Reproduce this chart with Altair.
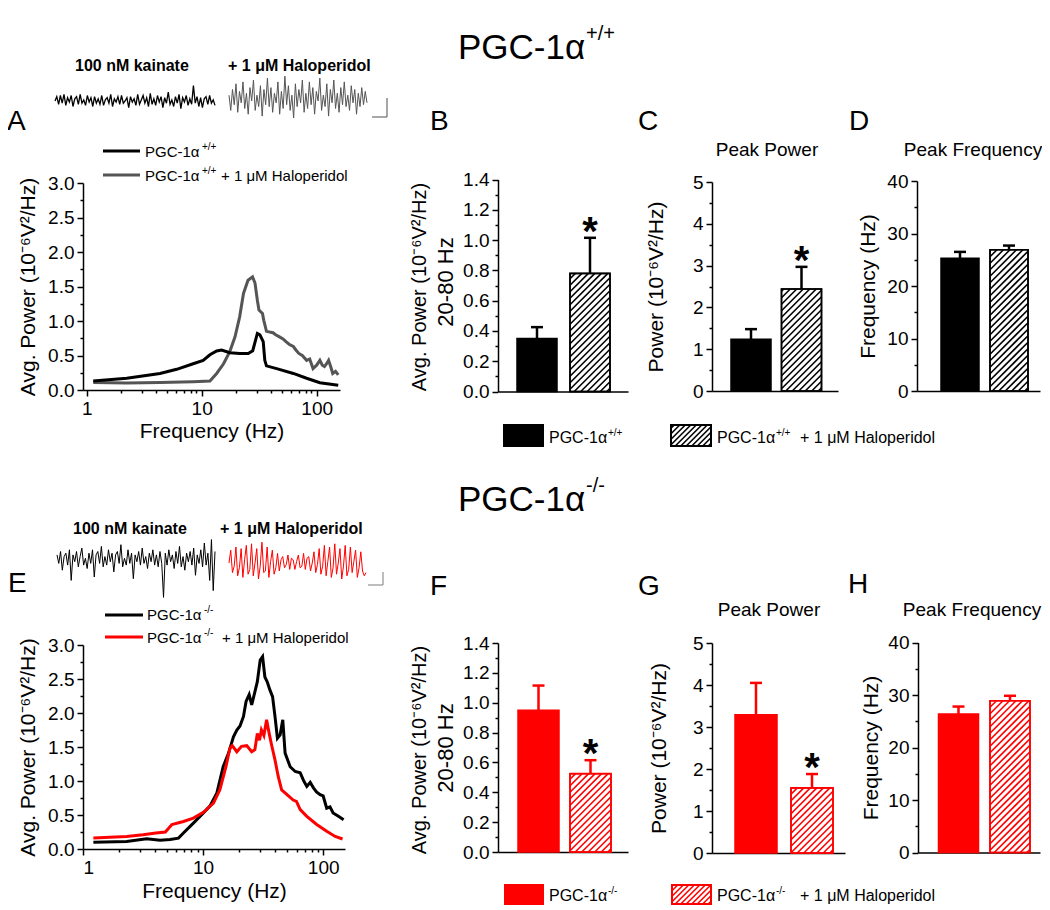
import altair as alt
import pandas as pd

FONT = "Liberation Sans"
M = 8
W, H = 1034, 900

# ---------------- data ----------------
# Panel A: PGC-1α+/+ average power spectra
a_freq_ctrl = [1.14, 2.23, 4.34, 6.06, 8.44, 10.3, 11.8, 13.5, 14.9, 17.6,
               21.5, 25.4, 27.8, 30.5, 32.1, 34.3, 35.4, 36.6, 44.9, 62.7,
               81.8, 106.7, 154]
a_pow_ctrl = [0.13, 0.17, 0.24, 0.30, 0.38, 0.43, 0.51, 0.565, 0.58, 0.54,
              0.53, 0.53, 0.57, 0.82, 0.80, 0.70, 0.43, 0.35, 0.31, 0.24,
              0.17, 0.106, 0.07]
a_freq_halo = [1.14, 2.23, 4.34, 8.44, 11.8, 13.5, 15.5, 17.6, 19.5, 21.4,
               23.1, 25.3, 27.7, 29.1, 30.5, 31.5, 33.8, 34.7, 36.6, 41.7,
               44.0, 47.5, 51.0, 54.1, 58.0, 62.7, 66.0, 70.0, 75.0, 81.8,
               87.0, 93.0, 100.0, 106.7, 112.0, 117.0, 122.0, 127.0, 133.0, 138.0,
               146.0, 154.0]
a_pow_halo = [0.11, 0.10, 0.11, 0.12, 0.13, 0.24, 0.38, 0.56, 0.77, 1.06,
              1.40, 1.59, 1.64, 1.55, 1.30, 1.16, 1.11, 1.01, 0.85, 0.83,
              0.80, 0.77, 0.74, 0.70, 0.66, 0.63, 0.58, 0.53, 0.50, 0.43,
              0.45, 0.31, 0.36, 0.43, 0.36, 0.34, 0.38, 0.43, 0.33, 0.24,
              0.27, 0.22]

# Panel E: PGC-1α-/- average power spectra
e_freq_ctrl = [1.22, 2.31, 3.39, 4.38, 5.31, 6.24, 6.86, 8.30, 10.06, 11.4,
               13.0, 14.7, 16.3, 17.9, 19.1, 20.3, 21.7, 22.8, 24.2, 25.4,
               27.0, 28.3, 29.9, 31.3, 32.7, 34.2, 36.0, 37.9, 39.7, 41.6,
               43.8, 46.1, 48.2, 53.1, 58.5, 64.4, 69.0, 73.1, 78.0, 83.0,
               88.0, 94.3, 100.0, 107.0, 114.0, 121.0, 134.0, 148.0]
e_pow_ctrl = [0.10, 0.11, 0.15, 0.13, 0.14, 0.16, 0.235, 0.38, 0.53, 0.63,
              0.82, 1.21, 1.41, 1.65, 1.75, 1.81, 1.95, 2.17, 2.27, 2.12,
              2.31, 2.46, 2.78, 2.83, 2.53, 2.46, 2.34, 2.24, 1.95, 1.63,
              1.68, 1.90, 1.41, 1.21, 1.14, 1.12, 1.00, 0.92, 0.98, 0.90,
              0.84, 0.80, 0.78, 0.60, 0.62, 0.53, 0.48, 0.43]
e_freq_halo = [1.22, 2.31, 3.16, 4.05, 4.85, 5.50, 6.86, 8.30, 10.06, 12.2,
               13.8, 15.5, 16.7, 17.5, 19.1, 20.9, 23.1, 25.4, 27.0, 28.3,
               29.5, 30.6, 32.1, 33.8, 35.5, 37.2, 39.7, 42.2, 45.1, 50.0,
               56.3, 59.9, 64.4, 73.1, 88.3, 107.0, 126.0, 145.0]
e_pow_halo = [0.16, 0.185, 0.21, 0.235, 0.25, 0.36, 0.405, 0.455, 0.54, 0.675,
              0.87, 1.21, 1.48, 1.52, 1.43, 1.51, 1.52, 1.43, 1.46, 1.70,
              1.60, 1.75, 1.67, 1.90, 1.70, 1.53, 1.31, 1.07, 0.87, 0.80,
              0.72, 0.70, 0.58, 0.48, 0.36, 0.26, 0.185, 0.147]

# Bar panels: [control, + haloperidol]
b_mean = [0.35, 0.78];  b_err = [0.075, 0.235]
c_mean = [1.24, 2.44];  c_err = [0.24, 0.53]
d_mean = [25.3, 26.9];  d_err = [1.2, 0.8]
f_mean = [0.95, 0.525]; f_err = [0.165, 0.09]
g_mean = [3.29, 1.55];  g_err = [0.76, 0.33]
h_mean = [26.4, 28.9];  h_err = [1.4, 0.95]

# Example field-potential traces (arbitrary units)
tr_top_ctrl = [0, 4, -3, 5, -2, 6, -4, 3, -1, 5, -5, 2, 4, -3, 6, -2, 1, -4, 5, -1,
               3, -5, 4, -2, 2, -3, 5, -4, 1, 3, -2, 6, -5, 2, -1, 4, -3, 5, -2, 0,
               3, -6, 4, -1, 2, -4, 6, -3, 1, 5, -2, 3, -5, 7, -3, 2, -4, 5, -1, 4,
               -6, 3, -2, 8, -3, 1, -5, 4, -2, 6, -7, 3, -1, 5, -4, 2, -3, 14, -2, 4,
               -5, 3, -6, 2, 4, -3, 5, -2, 1, -4]
tr_top_halo = [2, -6, 5, -3, 8, -7, 4, -2, 9, -5, 3, -8, 6, -1, 10, -6, 2, -4, 7, -9,
               5, -3, 11, -4, 6, -7, 3, -2, 9, -8, 4, -5, 12, -3, 7, -6, 2, -10, 8, -4,
               5, -2, 10, -7, 3, -5, 9, -3, 6, -8, 4, -1, 11, -6, 2, -4, 8, -9, 5, -2,
               10, -5, 3, -7, 6, -3, 9, -4, 2, -6, 7, -2, 5, -8, 3, -4, 6, -3, 4, -2]
tr_bot_ctrl = [3, -2, 5, -6, 2, 4, -3, 6, -12, 3, -1, 5, -4, 2, 7, -3, 1, -5, 4, -2,
               6, -10, 3, 5, -2, 8, -4, 2, -3, 6, -1, 4, -7, 3, 5, -2, 9, -4, 1, -3,
               6, -2, 4, -11, 3, -1, 5, -3, 7, -2, 2, -5, 4, -1, 6, -3, 3, -4, 5, -2,
               -22, 4, -3, 6, -1, 3, -5, 5, -2, 8, -4, 2, -6, 4, -1, 5, -3, 7, -9, 3,
               -2, 6, -4, 10, -3, 4, -12, 12, -18, 5]
tr_bot_halo = [0, 8, -6, -2, 10, -8, -3, 9, -9, 2, 11, -7, -4, 12, -8, 0, 9, -10, -2, 13,
               -6, -5, 10, -9, 1, 8, -7, -3, 6, -5, 2, 4, -3, -1, 5, -4, 3, 2, -4, 1,
               5, -3, -2, 6, -4, 3, 4, -5, 0, 7, -6, -1, 9, -7, -2, 11, -8, 1, 10, -9,
               -3, 12, -7, 0, 9, -10, -2, 11, -8, -4, 10, -6, 1, 8, -9, -3, 7, -5, -8, -6]

RED = "#ff0000"
GREY = "#555555"


def P(v):
    """screen pixel -> chart pixel"""
    return v - M


def pscale_x():
    return alt.Scale(domain=[M, M + W], range=[0, W], nice=False, zero=False)


def pscale_y():
    return alt.Scale(domain=[M, M + H], range=[0, H], nice=False, zero=False)


AX = dict(domainColor="black", domainWidth=1.5, tickColor="black", tickWidth=1.5,
          labelColor="black", labelFont=FONT, labelFontSize=19, titleFont=FONT,
          titleFontSize=21, titleFontWeight="normal", titleColor="black", grid=False,
          labelPadding=3)


def y_major(ax, values, fmt, title, title_right):
    kw = dict(AX)
    kw.update(orient="left", offset=-P(ax), values=values, format=fmt, tickSize=6)
    if title is None:
        kw.update(title=None)
    else:
        kw.update(title=title, titleX=title_right - ax, titleBaseline="bottom",
                  titleAngle=270)
    return alt.Axis(**kw)


def y_minor(ax, values):
    return alt.Axis(orient="left", offset=-P(ax), values=values, labels=False,
                    domain=False, tickSize=3, tickWidth=1.5, tickColor="black",
                    title=None, grid=False)


def x_log_major(ybot, title_top):
    kw = dict(AX)
    kw.update(orient="bottom", offset=P(ybot) - H, values=[1, 10, 100], format="d",
              tickSize=6, title="Frequency (Hz)", titleBaseline="top",
              titleY=title_top - ybot)
    return alt.Axis(**kw)


def x_log_minor(ybot):
    vals = [2, 3, 4, 5, 6, 7, 8, 9, 20, 30, 40, 50, 60, 70, 80, 90]
    return alt.Axis(orient="bottom", offset=P(ybot) - H, values=vals, labels=False,
                    domain=False, tickSize=3, tickWidth=1.5, tickColor="black",
                    title=None, grid=False)


def x_base(ybot):
    return alt.Axis(orient="bottom", offset=P(ybot) - H, values=[], labels=False,
                    ticks=False, domain=True, domainColor="black", domainWidth=1.5,
                    title=None, grid=False)


def hatch_local(bw, bh, step):
    segs = []
    k = -bw + step / 2
    while k < bh:
        xa = max(0.0, -k)
        xb = min(bw, bh - k)
        if xb > xa:
            segs.append((xa, xa + k, xb, xb + k))
        k += step
    return segs


def spectrum(freq1, pow1, col1, freq2, pow2, col2, ax, right, ybot, ytop, xdom,
             title_right, xtitle_top):
    def xs():
        return alt.Scale(type="log", domain=xdom, range=[P(ax), P(right)], nice=False)

    def ys():
        return alt.Scale(domain=[0, 3], range=[P(ybot), P(ytop)], nice=False, zero=False)

    d1 = pd.DataFrame({"f": freq1, "p": pow1})
    d2 = pd.DataFrame({"f": freq2, "p": pow2})
    l1 = alt.Chart(d1).mark_line(color=col1, strokeWidth=3).encode(
        x=alt.X("f:Q", scale=xs(), axis=x_log_major(ybot, xtitle_top)),
        y=alt.Y("p:Q", scale=ys(),
                axis=y_major(ax, [0, 0.5, 1.0, 1.5, 2.0, 2.5, 3.0], ".1f",
                             "Avg. Power (10⁻⁶V²/Hz)", title_right)))
    l2 = alt.Chart(d2).mark_line(color=col2, strokeWidth=3).encode(
        x=alt.X("f:Q", scale=xs(), axis=x_log_minor(ybot)),
        y=alt.Y("p:Q", scale=ys(),
                axis=y_minor(ax, [0.25, 0.75, 1.25, 1.75, 2.25, 2.75])))
    return [l1, l2]


def bar_panel(means, errs, color, ax, c1, c2, bw, right, ybot, ytop, ymax,
              major, minor, fmt, title, title_right, star_dy=7):
    u = c2 - c1
    lo = 1 - (c1 - ax) / u
    hi = 2 + (right - c2) / u
    hw = bw / 2 / u
    cap = 6 / u
    ky = (ybot - ytop) / ymax

    def xs():
        return alt.Scale(domain=[lo, hi], range=[P(ax), P(right)], nice=False, zero=False)

    def ys():
        return alt.Scale(domain=[0, ymax], range=[P(ybot), P(ytop)], nice=False, zero=False)

    df = pd.DataFrame({"i": [1, 2], "m": means, "e": errs})
    df["x0"] = df["i"] - hw
    df["x1"] = df["i"] + hw
    df["z"] = 0.0
    df["top"] = df["m"] + df["e"]
    df["k0"] = df["i"] - cap
    df["k1"] = df["i"] + cap
    df["fill"] = [color, "white"]

    out = []
    out.append(alt.Chart(df).mark_rect(stroke=color, strokeWidth=1.5).encode(
        x=alt.X("x0:Q", scale=xs(), axis=x_base(ybot)), x2="x1:Q",
        y=alt.Y("m:Q", scale=ys(), axis=y_major(ax, major, fmt, title, title_right)),
        y2="z:Q",
        fill=alt.Fill("fill:N", scale=None)))

    # hatching of the haloperidol bar
    rows = []
    m = means[1]
    for (xa, ya, xb, yb) in hatch_local(bw, m * ky, 6.5):
        rows.append({"hx": 2 - hw + xa / u, "hy": ya / ky,
                     "hx2": 2 - hw + xb / u, "hy2": yb / ky})
    hd = pd.DataFrame(rows)
    out.append(alt.Chart(hd).mark_rule(color=color, strokeWidth=1.6).encode(
        x=alt.X("hx:Q", scale=xs(), axis=None), x2="hx2:Q",
        y=alt.Y("hy:Q", scale=ys(), axis=None), y2="hy2:Q"))
    # outline of hatched bar on top
    out.append(alt.Chart(df.iloc[[1]]).mark_rect(stroke=color, strokeWidth=1.6,
                                                  fillOpacity=0).encode(
        x=alt.X("x0:Q", scale=xs(), axis=None), x2="x1:Q",
        y=alt.Y("m:Q", scale=ys(), axis=None), y2="z:Q"))

    out.append(alt.Chart(df).mark_rule(color=color, strokeWidth=2.5).encode(
        x=alt.X("i:Q", scale=xs(), axis=None),
        y=alt.Y("m:Q", scale=ys(), axis=y_minor(ax, minor)), y2="top:Q"))
    out.append(alt.Chart(df).mark_rule(color=color, strokeWidth=2.5).encode(
        x=alt.X("k0:Q", scale=xs(), axis=None), x2="k1:Q",
        y=alt.Y("top:Q", scale=ys(), axis=None)))
    if star_dy is not None:
        out.append(alt.Chart(df.iloc[[1]]).mark_text(
            text="*", font=FONT, fontSize=40, fontWeight="bold", color="black",
            baseline="alphabetic", align="center", dy=star_dy).encode(
            x=alt.X("i:Q", scale=xs(), axis=None),
            y=alt.Y("top:Q", scale=ys(), axis=None)))
    return out


def trace(vals, x0, x1, yc, k, color, width):
    n = len(vals)
    df = pd.DataFrame({"i": list(range(n)), "v": vals})
    return alt.Chart(df).mark_line(color=color, strokeWidth=width).encode(
        x=alt.X("i:Q", scale=alt.Scale(domain=[0, n - 1], range=[P(x0), P(x1)],
                                       nice=False, zero=False), axis=None),
        y=alt.Y("v:Q", scale=alt.Scale(domain=[-10, 10],
                                       range=[P(yc + 10 * k), P(yc - 10 * k)],
                                       nice=False, zero=False), axis=None))


def text_layer(rows, size, weight="normal", align="left", color="black", angle=0,
               baseline="alphabetic"):
    df = pd.DataFrame(rows, columns=["x", "y", "t"])
    return alt.Chart(df).mark_text(font=FONT, fontSize=size, fontWeight=weight,
                                   align=align, baseline=baseline, angle=angle,
                                   color=color).encode(
        x=alt.X("x:Q", scale=pscale_x(), axis=None),
        y=alt.Y("y:Q", scale=pscale_y(), axis=None),
        text="t:N")


def rule_layer(rows):
    df = pd.DataFrame(rows, columns=["x", "y", "x2", "y2", "c", "w"])
    return alt.Chart(df).mark_rule().encode(
        x=alt.X("x:Q", scale=pscale_x(), axis=None),
        y=alt.Y("y:Q", scale=pscale_y(), axis=None),
        x2="x2:Q", y2="y2:Q",
        color=alt.Color("c:N", scale=None),
        strokeWidth=alt.StrokeWidth("w:Q", scale=None))


def rect_layer(rows):
    df = pd.DataFrame(rows, columns=["x", "y", "x2", "y2", "fill", "stroke"])
    return alt.Chart(df).mark_rect(strokeWidth=2).encode(
        x=alt.X("x:Q", scale=pscale_x(), axis=None),
        y=alt.Y("y:Q", scale=pscale_y(), axis=None),
        x2="x2:Q", y2="y2:Q",
        fill=alt.Fill("fill:N", scale=None),
        stroke=alt.Stroke("stroke:N", scale=None))


def swatch_hatch(x0, x1, ytop, ybot, color):
    rows = []
    for (xa, ya, xb, yb) in hatch_local(x1 - x0, ybot - ytop, 5.5):
        rows.append((x0 + xa, ybot - ya, x0 + xb, ybot - yb, color, 1.6))
    return rows


layers = []

# ---------- spectra ----------
layers += spectrum(a_freq_halo, a_pow_halo, GREY, a_freq_ctrl, a_pow_ctrl, "black",
                   83, 340, 390, 183, [0.929, 159.6], 38, 420)
layers += spectrum(e_freq_ctrl, e_pow_ctrl, "black", e_freq_halo, e_pow_halo, RED,
                   83, 345, 849, 645, [1.0, 152.0], 38, 880)

# ---------- bar panels ----------
PW = "Power (10⁻⁶V²/Hz)"
b_major = [0, 0.2, 0.4, 0.6, 0.8, 1.0, 1.2, 1.4]
b_minor = [0.1, 0.3, 0.5, 0.7, 0.9, 1.1, 1.3]
c_major = [0, 1, 2, 3, 4, 5]
c_minor = [0.5, 1.5, 2.5, 3.5, 4.5]
d_major = [0, 10, 20, 30, 40]
d_minor = [5, 15, 25, 35]

layers += bar_panel(b_mean, b_err, "black", 498, 537, 590, 40, 628, 391.5, 179.5, 1.4,
                    b_major, b_minor, ".1f", None, 0)
layers += bar_panel(c_mean, c_err, "black", 712, 751, 801.5, 40, 838, 391, 182, 5,
                    c_major, c_minor, "d", PW, 666)
layers += bar_panel(d_mean, d_err, "black", 917, 960, 1009, 38, 1040, 391, 181, 40,
                    d_major, d_minor, "d", "Frequency (Hz)", 878, star_dy=None)
layers += bar_panel(f_mean, f_err, RED, 498, 538.5, 590.5, 41, 628, 852, 643, 1.4,
                    b_major, b_minor, ".1f", None, 0)
layers += bar_panel(g_mean, g_err, RED, 712, 756, 812, 42, 845, 853, 643, 5,
                    c_major, c_minor, "d", PW, 669)
layers += bar_panel(h_mean, h_err, RED, 918, 958.5, 1010, 40, 1040, 852.5, 642.5, 40,
                    d_major, d_minor, "d", "Frequency (Hz)", 881, star_dy=None)

# two-line axis titles of panels B and F
layers.append(text_layer([(420, 287, "Avg. Power (10⁻⁶V²/Hz)"),
                          (420, 750, "Avg. Power (10⁻⁶V²/Hz)")],
                         20, align="center", angle=270, baseline="middle"))
layers.append(text_layer([(446, 282, "20-80 Hz"), (446, 748, "20-80 Hz")],
                         22, align="center", angle=270, baseline="middle"))

# ---------- example traces ----------
layers.append(trace(tr_top_ctrl, 55, 215, 101, 1.1, "black", 1.3))
layers.append(trace(tr_top_halo, 229, 367, 99, 1.9, GREY, 1.0))
layers.append(trace(tr_bot_ctrl, 57, 215, 560, 1.7, "black", 1.0))
layers.append(trace(tr_bot_halo, 229, 366, 563, 1.6, RED, 1.0))

# ---------- pixel decorations: scale bars, legend lines, swatches ----------
rules = [
    (372, 117, 387, 117, "#777777", 1.3), (387, 98, 387, 117, "#777777", 1.3),
    (368, 585, 383, 585, "#999999", 1.3), (383, 572, 383, 585, "#999999", 1.3),
    (103, 151, 140, 151, "black", 3), (103, 175, 140, 175, GREY, 3),
    (105, 615, 143, 615, "black", 3), (105, 637, 143, 637, RED, 3),
]
rules += swatch_hatch(671, 711, 425, 446, "black")
rules += swatch_hatch(672, 711, 885, 904, RED)
layers.append(rule_layer(rules))
layers.append(rect_layer([
    (504, 425, 543, 446, "black", "black"),
    (671, 425, 711, 446, "none", "black"),
    (505, 885, 543, 904, RED, RED),
    (672, 885, 711, 904, "none", RED),
]))

# ---------- texts ----------
layers.append(text_layer([(458, 59, "PGC-1α"), (458, 511, "PGC-1α")], 35))
layers.append(text_layer([(586, 40, "+/+"), (586, 492, "-/-")], 20))
layers.append(text_layer([(75, 71, "100 nM kainate"), (228, 71, "+ 1 μM Haloperidol"),
                          (73, 534, "100 nM kainate"), (220, 534, "+ 1 μM Haloperidol")],
                         16, weight="bold"))
layers.append(text_layer([(7, 130, "A"), (430, 130, "B"), (638, 130, "C"), (849, 130, "D"),
                          (8, 592, "E"), (430, 595, "F"), (638, 595, "G"), (848, 593, "H")],
                         28))
layers.append(text_layer([(767, 156, "Peak Power"), (973, 156, "Peak Frequency"),
                          (769, 616, "Peak Power"), (972, 616, "Peak Frequency")],
                         19, align="center"))
# panel A / E legends
layers.append(text_layer([(145, 157, "PGC-1α"), (145, 181, "PGC-1α"),
                          (221, 181, "+ 1 μM Haloperidol"),
                          (147, 620, "PGC-1α"), (147, 643, "PGC-1α"),
                          (222, 643, "+ 1 μM Haloperidol")], 15))
layers.append(text_layer([(202, 150, "+/+"), (202, 174, "+/+"),
                          (204, 613, "-/-"), (204, 636, "-/-")], 10))
# bar legends
layers.append(text_layer([(549, 443, "PGC-1α"), (717, 443, "PGC-1α"),
                          (800, 443, "+ 1 μM Haloperidol"),
                          (549, 901, "PGC-1α"), (717, 901, "PGC-1α"),
                          (800, 901, "+ 1 μM Haloperidol")], 16))
layers.append(text_layer([(608, 436, "+/+"), (776, 436, "+/+"),
                          (608, 894, "-/-"), (776, 894, "-/-")], 10))

chart = alt.layer(*layers).resolve_scale(x="independent", y="independent").properties(
    width=W, height=H, padding=0, background="white",
    autosize=alt.AutoSizeParams(type="none")
).configure_view(stroke=None)

chart.save("out.html", embed_options={"renderer": "svg", "actions": False})
